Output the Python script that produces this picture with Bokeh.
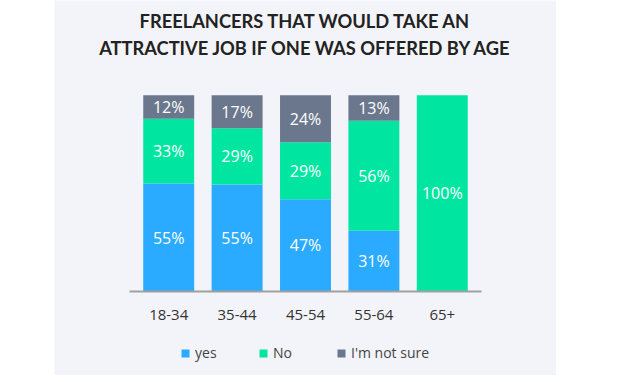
from bokeh.plotting import figure
from bokeh.models import ColumnDataSource, FactorRange, Legend, LegendItem, Range1d, Spacer, LabelSet, Label
from bokeh.layouts import row
from bokeh.embed import file_html
from bokeh.resources import INLINE
from bokeh.core.properties import value

ages = ["18-34", "35-44", "45-54", "55-64", "65+"]
yes = [55, 55, 47, 31, 0]
no = [33, 29, 29, 56, 100]
not_sure = [12, 17, 24, 13, 0]
series_names = ["yes", "No", "I'm not sure"]
colors = ["#2aabff", "#00e6a0", "#6b778d"]
title_lines = ["FREELANCERS THAT WOULD TAKE AN", "ATTRACTIVE JOB IF ONE WAS OFFERED BY AGE"]

# 100%-stacked shares
totals = [a + b + c for a, b, c in zip(yes, no, not_sure)]
shares = [[v * 100.0 / t for v, t in zip(s, totals)] for s in (yes, no, not_sure)]
raw = [yes, no, not_sure]

BG = "#f3f4f9"
W, H = 502, 375
AXIS_Y = 291                  # pixel row of the baseline
PX_PER_UNIT = 196.3 / 100.0
Y_START = -(H - AXIS_Y) / PX_PER_UNIT
Y_END = AXIS_Y / PX_PER_UNIT

p = figure(x_range=FactorRange(*ages, range_padding=0.468), y_range=Range1d(Y_START, Y_END),
           width=W, height=H, output_backend="svg", toolbar_location=None,
           min_border=0, background_fill_color=BG, border_fill_color=BG, outline_line_color=None)

renderers = []
bottoms = [0.0] * len(ages)
for name, col, sh, rv in zip(series_names, colors, shares, raw):
    tops = [b + s for b, s in zip(bottoms, sh)]
    mids = [(b + t) / 2 for b, t in zip(bottoms, tops)]
    labels = [f"{v}%" if v > 0 else "" for v in rv]
    src = ColumnDataSource(dict(x=ages, bottom=bottoms, top=tops, mid=mids, label=labels))
    r = p.vbar(x="x", bottom="bottom", top="top", width=0.745, source=src,
               fill_color=col, line_color=None)
    renderers.append(r)
    p.add_layout(LabelSet(x="x", y="mid", text="label", source=src, text_color="white",
                          text_font=value("Open Sans"), text_font_size="16px",
                          text_align="center", text_baseline="middle"))
    bottoms = tops

# two-line title above the bars
for i, t in enumerate(title_lines):
    p.add_layout(Label(x=2.5, y=Y_END - (20 + 27.5 * i) / PX_PER_UNIT, x_units="data", y_units="data",
                       text=t, text_align="center", text_baseline="middle",
                       text_font="Lato", text_font_style="bold", text_font_size="18.3px",
                       text_color="#222222"))

p.yaxis.visible = False
p.xgrid.grid_line_color = None
p.ygrid.grid_line_color = None
xa = p.xaxis[0]
xa.fixed_location = 0
xa.bounds = (-0.08, 5.08)
xa.axis_line_color = "#a0a0a0"
xa.axis_line_width = 2
xa.major_tick_line_color = None
xa.minor_tick_line_color = None
xa.major_tick_out = 0
xa.major_label_standoff = 18
xa.major_label_text_font = "Open Sans"
xa.major_label_text_font_size = "15px"
xa.major_label_text_color = "#333333"

items = [LegendItem(label=n, renderers=[r]) for n, r in zip(series_names, renderers)]
leg = Legend(items=items, orientation="horizontal", location=(126, 13),
             glyph_width=10, glyph_height=10, label_standoff=5, label_width=50, label_height=14,
             spacing=13, padding=0, margin=0,
             label_text_font="Open Sans", label_text_font_size="14px", label_text_color="#444444",
             background_fill_alpha=0, border_line_alpha=0)
p.add_layout(leg, "center")

layout = row(Spacer(width=54, height=H), p)
open("out.html", "w").write(file_html(layout, INLINE))
